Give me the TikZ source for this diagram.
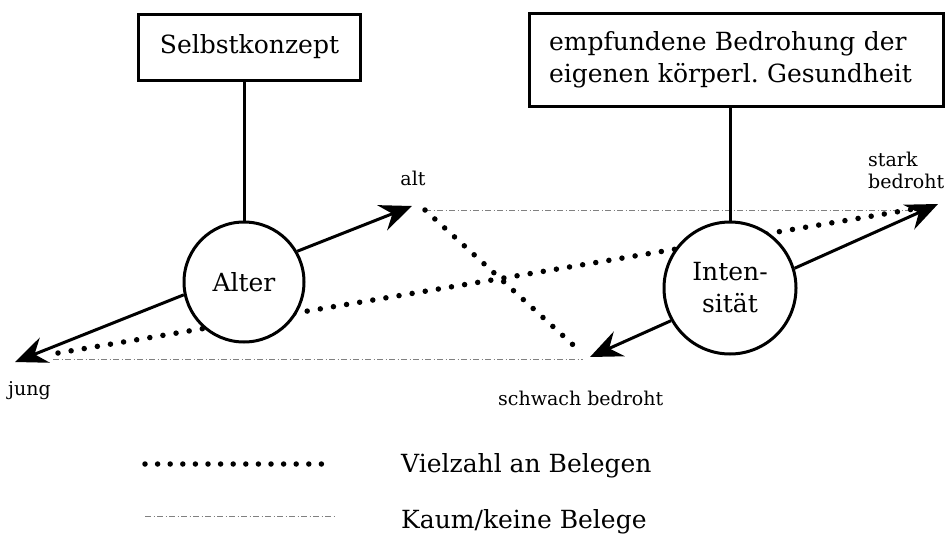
\documentclass[tikz,border=0pt]{standalone}
\usepackage{fontspec}
\setmainfont{DejaVu Serif}
\usetikzlibrary{arrows.meta}
\frenchspacing
\tikzset{
  big/.style={font=\fontsize{25}{32}\selectfont},
  small/.style={font=\fontsize{19}{22}\selectfont},
  box/.style={draw, line width=3pt, inner sep=0pt, big},
  round/.style={draw, circle, line width=3pt, fill=white, inner sep=0pt, big, align=center},
  axisarrow/.style={line width=3pt, -{Stealth[length=32pt, width=27pt, inset=11pt]}},
  link/.style={line width=3pt},
  evidence/.style={line width=5.5pt, line cap=round, dash pattern=on 0pt off 13.3pt},
  legenddots/.style={line width=5.5pt, line cap=round, dash pattern=on 0pt off 12.6pt},
  noevidence/.style={line width=1pt, draw=black!50, dash pattern=on 6pt off 2.5pt on 1pt off 2.5pt},
}
\begin{document}
\begin{tikzpicture}[x=1pt, y=-1pt]
\useasboundingbox[fill=white] (0,0) rectangle (945,533);

% reference coordinates
\coordinate (altDot) at (425,210);
\coordinate (topEnd) at (915,210);
\coordinate (jungLine) at (53,359);
\coordinate (schwachLine) at (583,359);
\coordinate (schwachDot) at (582,353);
\coordinate (jungDot) at (58,353);
\coordinate (starkDot) at (914,209);
\coordinate (altTip) at (412,206);
\coordinate (jungTip) at (15,362);
\coordinate (starkTip) at (938,204);
\coordinate (schwachTip) at (590,357);

% thin dash-dot lines (kaum/keine Belege)
\draw[noevidence] (altDot) -- (topEnd);
\draw[noevidence] (jungLine) -- (schwachLine);

% dotted lines (Vielzahl an Belegen)
\draw[evidence] (altDot) -- (schwachDot);
\draw[evidence] (jungDot) -- (starkDot);

% circles
\node[round, minimum size=120pt] (alter) at (244,282) {Alter};
\node[round, minimum size=132pt] (inten) at (730,288) {Inten-\\sität};

% axis arrows
\draw[axisarrow] (alter.30.8) -- (altTip);
\draw[axisarrow] (alter.192.4) -- (jungTip);
\draw[axisarrow] (inten.17.9) -- (starkTip);
\draw[axisarrow] (inten.209.6) -- (schwachTip);

% boxes
\node[box, minimum width=222pt, minimum height=66pt] (selbst) at (249.5,47) {Selbstkonzept};
\node[box, minimum width=414pt, minimum height=93pt, text width=374pt, align=left] (bedr) at (736,59.5)
  {empfundene Bedrohung der\\eigenen körperl.\ Gesundheit};

\draw[link] (alter.north) -- (alter.north |- selbst.south);
\draw[link] (inten.north) -- (inten.north |- bedr.south);

% axis labels
\node[small, anchor=base, inner sep=0pt] (altLbl) at (413,185) {alt};
\node[small, anchor=base west, inner sep=0pt] (jungLbl) at (8,395) {jung};
\node[small, anchor=base west, inner sep=0pt] (schwachLbl) at (498,405) {schwach bedroht};
\node[small, anchor=north west, inner sep=0pt, align=left] (starkLbl) at (868,152) {stark\\bedroht};

% legend
\coordinate (legA1) at (145,464);
\coordinate (legA2) at (333,464);
\coordinate (legB1) at (145,516);
\coordinate (legB2) at (335,516);
\draw[legenddots] (legA1) -- (legA2);
\draw[noevidence] (legB1) -- (legB2);
\node[big, anchor=base west, inner sep=0pt] (legAtxt) at (401,472) {Vielzahl an Belegen};
\node[big, anchor=base west, inner sep=0pt] (legBtxt) at (401,528) {Kaum/keine Belege};
\end{tikzpicture}
\end{document}
